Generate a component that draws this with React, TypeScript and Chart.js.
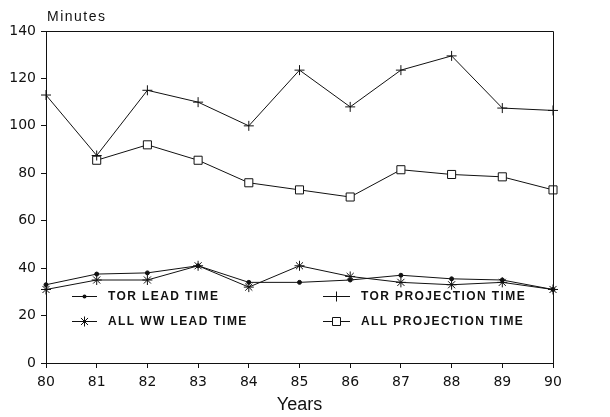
import React, { useEffect, useRef } from "react";
import { Chart, registerables } from "chart.js";

Chart.register(...registerables);

const YEARS = ["80", "81", "82", "83", "84", "85", "86", "87", "88", "89", "90"];
const TOR_LEAD = [33, 37.5, 38, 41, 34, 34, 35, 37, 35.5, 35, 31];
const ALL_WW_LEAD = [31, 35, 35, 41, 32, 41, 36.5, 34, 33, 34, 31];
const TOR_PROJ = [113, 87.5, 115, 110, 100, 123.5, 108, 123.5, 129.5, 107.5, 106.5];
const ALL_PROJ = [null, 85.5, 92, 85.5, 76, 73, 70, 81.5, 79.5, 78.5, 73];
const Y_TICKS = [0, 20, 40, 60, 80, 100, 120, 140];
const LEGEND_LABELS = ["TOR LEAD TIME", "ALL WW LEAD TIME", "TOR PROJECTION TIME", "ALL PROJECTION TIME"];

const INK = "#111";
const FONT = "'Liberation Sans', Arial, Helvetica, sans-serif";
const TICK_FONT = "'DejaVu Sans', 'Liberation Sans', Arial, sans-serif";

function marker(ctx: CanvasRenderingContext2D, kind: string, x: number, y: number) {
  ctx.save();
  ctx.strokeStyle = INK;
  ctx.fillStyle = INK;
  ctx.lineWidth = 1;
  ctx.beginPath();
  if (kind === "dot") {
    ctx.arc(x, y, 2, 0, Math.PI * 2);
    ctx.fill();
  } else if (kind === "plus") {
    ctx.moveTo(x - 5, y); ctx.lineTo(x + 5, y);
    ctx.moveTo(x, y - 5); ctx.lineTo(x, y + 5);
    ctx.stroke();
  } else if (kind === "star") {
    for (let i = 0; i < 4; i++) {
      const a = (i * Math.PI) / 4;
      ctx.moveTo(x - 5 * Math.cos(a), y - 5 * Math.sin(a));
      ctx.lineTo(x + 5 * Math.cos(a), y + 5 * Math.sin(a));
    }
    ctx.stroke();
  } else if (kind === "rect") {
    ctx.fillStyle = "#fff";
    ctx.rect(x - 4, y - 4, 8, 8);
    ctx.fill();
    ctx.stroke();
  }
  ctx.restore();
}

const extras = {
  id: "extras",
  afterDraw(chart: any) {
    const { ctx, chartArea } = chart;
    const { left, right, top, bottom } = chartArea;
    ctx.save();
    // box top & right
    ctx.strokeStyle = INK;
    ctx.lineWidth = 1;
    ctx.beginPath();
    ctx.moveTo(left, top + 0.5);
    ctx.lineTo(right + 0.5, top + 0.5);
    ctx.lineTo(right + 0.5, bottom);
    ctx.stroke();

    // Minutes
    ctx.fillStyle = INK;
    ctx.font = `14px ${FONT}`;
    (ctx as any).letterSpacing = "1.5px";
    ctx.textAlign = "left";
    ctx.textBaseline = "middle";
    ctx.fillText("Minutes", left + 1, 17);

    // Years
    (ctx as any).letterSpacing = "0px";
    ctx.font = `18px ${FONT}`;
    ctx.textAlign = "center";
    ctx.fillText("Years", (left + right) / 2, 405);

    // legend
    const rows = [296, 321];
    const cols = [{ l0: 72, l1: 97, t: 108 }, { l0: 323, l1: 350, t: 361 }];
    const kinds = ["dot", "star", "plus", "rect"];
    ctx.font = `bold 12px ${FONT}`;
    (ctx as any).letterSpacing = "1.4px";
    ctx.textAlign = "left";
    for (let i = 0; i < 4; i++) {
      const c = cols[Math.floor(i / 2)];
      const y = rows[i % 2];
      ctx.beginPath();
      ctx.strokeStyle = INK;
      ctx.moveTo(c.l0, y + 0.5);
      ctx.lineTo(c.l1, y + 0.5);
      ctx.stroke();
      marker(ctx, kinds[i], (c.l0 + c.l1) / 2, y + 0.5);
      ctx.fillStyle = INK;
      ctx.fillText(LEGEND_LABELS[i], c.t, y + 1);
    }
    ctx.restore();
  },
};

export default function App() {
  const ref = useRef<HTMLCanvasElement>(null);
  useEffect(() => {
    document.body.style.margin = "0";
    const base = {
      borderColor: INK,
      backgroundColor: INK,
      borderWidth: 1,
      pointBorderColor: INK,
      pointBorderWidth: 1,
      tension: 0,
    };
    const chart = new Chart(ref.current!, {
      type: "line",
      data: {
        labels: YEARS,
        datasets: [
          { ...base, label: LEGEND_LABELS[0], data: TOR_LEAD, pointStyle: "circle", pointRadius: 2, pointBackgroundColor: INK },
          { ...base, label: LEGEND_LABELS[1], data: ALL_WW_LEAD, pointStyle: "star", pointRadius: 5 },
          { ...base, label: LEGEND_LABELS[2], data: TOR_PROJ, pointStyle: "cross", pointRadius: 5 },
          { ...base, label: LEGEND_LABELS[3], data: ALL_PROJ as any, pointStyle: "rect", pointRadius: 5.7, pointBackgroundColor: "#fff" },
        ],
      },
      options: {
        animation: false,
        responsive: false,
        maintainAspectRatio: false,
        layout: { padding: { top: 31, right: 57, left: 0, bottom: 0 } },
        plugins: { legend: { display: false }, tooltip: { enabled: false }, title: { display: false } },
        scales: {
          x: {
            type: "category",
            offset: false,
            afterFit: (s: any) => { s.height = 54; },
            grid: { display: true, drawOnChartArea: false, drawTicks: true, tickLength: 5, color: INK },
            border: { display: true, color: INK, width: 1 },
            ticks: { color: INK, font: { family: TICK_FONT, size: 14 }, padding: 6, maxRotation: 0, autoSkip: false },
          },
          y: {
            type: "linear",
            min: 0,
            max: 140,
            afterFit: (s: any) => { s.width = 46; },
            afterBuildTicks: (s: any) => { s.ticks = Y_TICKS.map((v) => ({ value: v })); },
            grid: { display: true, drawOnChartArea: false, drawTicks: true, tickLength: 5, color: INK },
            border: { display: true, color: INK, width: 1 },
            ticks: { color: INK, font: { family: TICK_FONT, size: 14 }, padding: 5 },
          },
        },
      },
      plugins: [extras],
    });
    return () => chart.destroy();
  }, []);
  return (
    <div style={{ position: "absolute", left: 0, top: 0, width: 610, height: 417, background: "#fff" }}>
      <canvas ref={ref} width={610} height={417} style={{ width: 610, height: 417 }} />
    </div>
  );
}
